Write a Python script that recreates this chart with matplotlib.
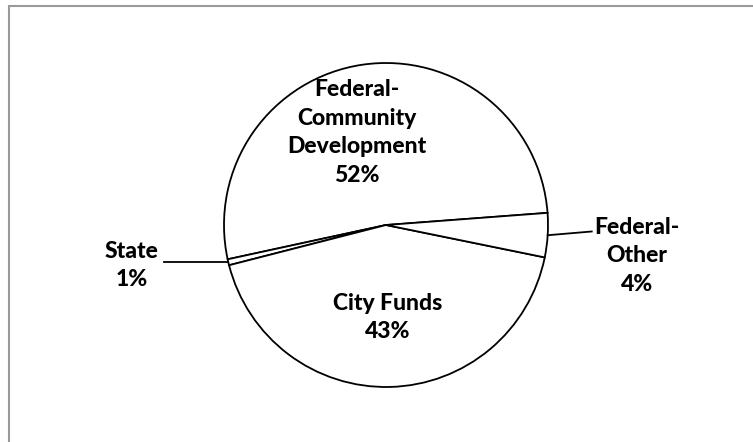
import numpy as np
import matplotlib
matplotlib.use("Agg")
import matplotlib.pyplot as plt
from matplotlib.patches import Rectangle

# funding sources, share of total (%)
sources = ["Federal-\nCommunity\nDevelopment", "State", "City Funds", "Federal-\nOther"]
shares = [52.2, 0.6, 42.8, 4.4]

W, H, DPI = 753, 442, 100
CX, CY, R = 386, 225, 162  # pie centre / radius in pixels

fig = plt.figure(figsize=(W / DPI, H / DPI), dpi=DPI)
ax = fig.add_axes([0, 0, 1, 1])

start = 4.3
wedges, _ = ax.pie(shares, startangle=start, counterclock=True, radius=1,
                   wedgeprops=dict(facecolor="white", edgecolor="black", linewidth=1.3))

ax.set_xlim(-CX / R, (W - CX) / R)
ax.set_ylim(-(H - CY) / R, CY / R)
ax.set_aspect("equal")
ax.axis("off")

font = dict(family=["Lato", "DejaVu Sans"], fontweight="black",
            fontsize=16.5, ha="center", va="center", linespacing=1.45)

labels = [f"{s}\n{v:.0f}%" for s, v in zip(sources, shares)]
# label centres (data units) - inside for big slices, outside for small ones
pos = [(-0.18, 0.57), (-1.57, -0.25), (0.01, -0.57), (1.55, -0.19)]
for txt, (x, y) in zip(labels, pos):
    ax.text(x, y, txt, **font)


def edge_point(w):
    mid = np.deg2rad((w.theta1 + w.theta2) / 2)
    return np.cos(mid), np.sin(mid)


# leader lines for the outside labels
ex, ey = edge_point(wedges[1])
ax.plot([ex, -1.37], [ey, ey], color="black", lw=1.3)
ex, ey = edge_point(wedges[3])
ax.plot([ex, 1.27], [ey, -0.04], color="black", lw=1.3)

# chart-area frame (runs off the right / bottom of the image)
fig.patches.append(Rectangle((8.5 / W, -0.2), 1.2, 1.2 - 6 / H, transform=fig.transFigure,
                             fill=False, edgecolor="#9a9a9a", lw=1.5))

fig.savefig("out.png", dpi=DPI)
